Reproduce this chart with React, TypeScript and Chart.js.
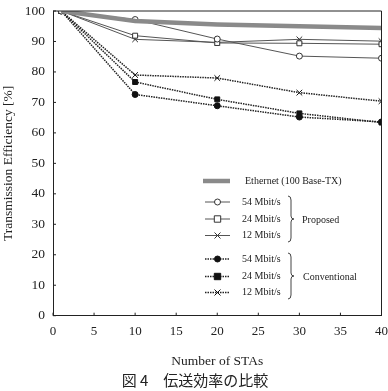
import React, { useEffect, useRef } from "react";
import { Chart, registerables } from "chart.js";

Chart.register(...registerables);

const stations = [1, 10, 20, 30, 40];
const ethernet = [100, 96.7, 95.6, 95.0, 94.4];
const prop54 = [100, 97.2, 90.8, 85.2, 84.5];
const prop24 = [100, 91.9, 89.5, 89.4, 89.1];
const prop12 = [100, 90.7, 89.7, 90.7, 90.1];
const conv54 = [100, 72.6, 68.9, 65.2, 63.6];
const conv24 = [100, 76.7, 71.0, 66.4, 63.4];
const conv12 = [100, 79.0, 78.0, 73.2, 70.4];

const xTicks = [0, 5, 10, 15, 20, 25, 30, 35, 40];
const yTicks = [0, 10, 20, 30, 40, 50, 60, 70, 80, 90, 100];

const yTitle = "Transmission Efficiency [%]";
const xTitle = "Number of STAs";
const caption = "図 4\u3000伝送効率の比較";
const legendEthernet = "Ethernet (100 Base-TX)";
const rateLabels = ["54 Mbit/s", "24 Mbit/s", "12 Mbit/s"];
const groupLabels = ["Proposed", "Conventional"];

const SERIF = "'Liberation Serif', 'DejaVu Serif', serif";
const INK = "#222";
const PROP_COLOR = "#555";
const CONV_COLOR = "#222";

function pts(ys: number[]) {
  return stations.map((x, i) => ({ x, y: ys[i] }));
}

function drawMarker(ctx: CanvasRenderingContext2D, kind: string, x: number, y: number, filled: boolean, color: string) {
  ctx.save();
  ctx.strokeStyle = color;
  ctx.fillStyle = filled ? color : "#fff";
  ctx.lineWidth = 1;
  ctx.setLineDash([]);
  if (kind === "circle") {
    ctx.beginPath();
    ctx.arc(x, y, 3, 0, Math.PI * 2);
    ctx.fill();
    ctx.stroke();
  } else if (kind === "rect") {
    ctx.beginPath();
    ctx.rect(x - 3.2, y - 3.2, 6.4, 6.4);
    ctx.fill();
    ctx.stroke();
  } else {
    ctx.beginPath();
    ctx.moveTo(x - 3, y - 3);
    ctx.lineTo(x + 3, y + 3);
    ctx.moveTo(x - 3, y + 3);
    ctx.lineTo(x + 3, y - 3);
    ctx.stroke();
  }
  ctx.restore();
}

function drawBrace(ctx: CanvasRenderingContext2D, x: number, y1: number, y2: number) {
  const ym = (y1 + y2) / 2;
  ctx.save();
  ctx.strokeStyle = "#444";
  ctx.lineWidth = 1;
  ctx.setLineDash([]);
  ctx.beginPath();
  ctx.moveTo(x - 3, y1);
  ctx.quadraticCurveTo(x, y1, x, y1 + 4);
  ctx.lineTo(x, ym - 3);
  ctx.quadraticCurveTo(x, ym, x + 3, ym);
  ctx.quadraticCurveTo(x, ym, x, ym + 3);
  ctx.lineTo(x, y2 - 4);
  ctx.quadraticCurveTo(x, y2, x - 3, y2);
  ctx.stroke();
  ctx.restore();
}

const decorPlugin = {
  id: "decor",
  afterDraw(chart: any) {
    const ctx: CanvasRenderingContext2D = chart.ctx;
    const a = chart.chartArea;
    const xs = chart.scales.x;
    const ys = chart.scales.y;
    ctx.save();
    ctx.strokeStyle = INK;
    ctx.lineWidth = 1;
    ctx.beginPath();
    ctx.moveTo(a.left, a.top);
    ctx.lineTo(a.right, a.top);
    ctx.lineTo(a.right, a.bottom);
    ctx.stroke();
    ctx.beginPath();
    xTicks.forEach((t) => {
      const px = xs.getPixelForValue(t);
      ctx.moveTo(px, a.bottom);
      ctx.lineTo(px, a.bottom - 3);
    });
    yTicks.forEach((t) => {
      const py = ys.getPixelForValue(t);
      ctx.moveTo(a.left, py);
      ctx.lineTo(a.left + 3, py);
    });
    ctx.stroke();

    const sx1 = 205, sx2 = 230;
    ctx.lineCap = "butt";
    ctx.strokeStyle = "#8a8a8a";
    ctx.lineWidth = 4.5;
    ctx.beginPath();
    ctx.moveTo(203, 181);
    ctx.lineTo(230, 181);
    ctx.stroke();
    ctx.fillStyle = INK;
    ctx.font = "10px " + SERIF;
    ctx.textBaseline = "middle";
    ctx.textAlign = "left";
    ctx.fillText(legendEthernet, 245, 181);

    const kinds = ["circle", "rect", "cross"];
    const propY = [202, 219, 235.5];
    const convY = [259, 276.5, 292.5];
    propY.forEach((y, i) => {
      ctx.strokeStyle = PROP_COLOR;
      ctx.lineWidth = 1;
      ctx.setLineDash([]);
      ctx.beginPath();
      ctx.moveTo(sx1, y);
      ctx.lineTo(sx2, y);
      ctx.stroke();
      drawMarker(ctx, kinds[i], (sx1 + sx2) / 2, y, false, "#333");
      ctx.fillStyle = INK;
      ctx.fillText(rateLabels[i], 242, y);
    });
    convY.forEach((y, i) => {
      ctx.strokeStyle = CONV_COLOR;
      ctx.lineWidth = 1.5;
      ctx.setLineDash([1.5, 1]);
      ctx.beginPath();
      ctx.moveTo(sx1, y);
      ctx.lineTo(sx2, y);
      ctx.stroke();
      ctx.setLineDash([]);
      drawMarker(ctx, kinds[i], (sx1 + sx2) / 2, y, true, "#111");
      ctx.fillStyle = INK;
      ctx.fillText(rateLabels[i], 242, y);
    });
    drawBrace(ctx, 291, 196, 242);
    drawBrace(ctx, 291, 253, 299);
    ctx.fillStyle = INK;
    ctx.fillText(groupLabels[0], 302, 220.5);
    ctx.fillText(groupLabels[1], 303, 277);

    ctx.font = "15px 'Noto Sans CJK JP', sans-serif";
    ctx.textAlign = "center";
    ctx.fillStyle = "#222";
    ctx.fillText(caption, 195, 380);
    ctx.restore();
  },
};

export default function App() {
  const ref = useRef<HTMLCanvasElement | null>(null);
  useEffect(() => {
    document.body.style.margin = "0";
    const canvas = ref.current;
    if (!canvas) return;
    const propBase = {
      borderColor: PROP_COLOR,
      borderWidth: 1,
      pointRadius: 3,
      pointBorderWidth: 1,
      pointBorderColor: "#333",
      pointBackgroundColor: "#fff",
      fill: false,
      tension: 0,
    };
    const convBase = {
      borderColor: CONV_COLOR,
      borderWidth: 1.5,
      borderDash: [1.5, 1],
      pointRadius: 3,
      pointBorderWidth: 1,
      pointBorderColor: "#111",
      pointBackgroundColor: "#111",
      fill: false,
      tension: 0,
    };
    const chart = new Chart(canvas, {
      type: "line",
      data: {
        datasets: [
          { label: "Ethernet", data: pts(ethernet), borderColor: "#8a8a8a", borderWidth: 4.5, pointRadius: 0, fill: false, tension: 0 },
          { label: "P54", data: pts(prop54), ...propBase, pointStyle: "circle" },
          { label: "P24", data: pts(prop24), ...propBase, pointStyle: "rect", pointRadius: 3.5 },
          { label: "P12", data: pts(prop12), ...propBase, pointStyle: "crossRot", pointRadius: 4 },
          { label: "C54", data: pts(conv54), ...convBase, pointStyle: "circle" },
          { label: "C24", data: pts(conv24), ...convBase, pointStyle: "rect", pointRadius: 3.5 },
          { label: "C12", data: pts(conv12), ...convBase, pointStyle: "crossRot", pointRadius: 4 },
        ],
      } as any,
      options: {
        animation: false,
        responsive: false,
        devicePixelRatio: 1,
        layout: { padding: { left: 0, right: 6.5, top: 11, bottom: 21 } },
        plugins: { legend: { display: false }, tooltip: { enabled: false } },
        scales: {
          x: {
            type: "linear",
            min: 0,
            max: 40,
            afterFit: (s: any) => { s.height = 54.3; s.paddingLeft = 0; s.paddingRight = 0; },
            afterBuildTicks: (s: any) => { s.ticks = xTicks.map((v) => ({ value: v })); },
            grid: { display: false, drawTicks: false },
            border: { display: true, color: INK, width: 1 },
            ticks: { color: INK, padding: 8, maxRotation: 0, font: { family: SERIF, size: 13 } },
            title: { display: true, text: xTitle, color: INK, padding: { top: 0, bottom: 0 }, font: { family: SERIF, size: 13.5 } },
          },
          y: {
            type: "linear",
            min: 0,
            max: 100,
            afterFit: (s: any) => { s.width = 53; s.paddingTop = 0; s.paddingBottom = 0; },
            afterBuildTicks: (s: any) => { s.ticks = yTicks.map((v) => ({ value: v })); },
            grid: { display: false, drawTicks: false },
            border: { display: true, color: INK, width: 1 },
            ticks: { color: INK, padding: 8, font: { family: SERIF, size: 13.5 } },
            title: { display: true, text: yTitle, color: INK, padding: { top: 0, bottom: 0 }, font: { family: SERIF, size: 13.5 } },
          },
        },
      } as any,
      plugins: [decorPlugin],
    });
    return () => chart.destroy();
  }, []);
  return <canvas ref={ref} width={388} height={391} style={{ display: "block" }} />;
}
